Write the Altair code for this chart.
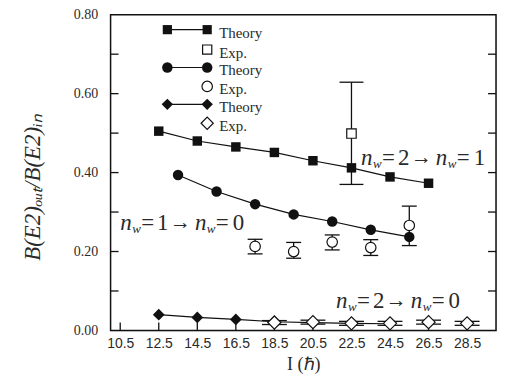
import altair as alt
import pandas as pd

# ---------------- data ----------------
theory_sq_x = [12.5, 14.5, 16.5, 18.5, 20.5, 22.5, 24.5, 26.5]
theory_sq_y = [0.505, 0.480, 0.465, 0.451, 0.430, 0.412, 0.389, 0.373]
exp_sq_x = [22.5]
exp_sq_y = [0.499]
exp_sq_lo = [0.370]
exp_sq_hi = [0.629]

theory_ci_x = [13.5, 15.5, 17.5, 19.5, 21.5, 23.5, 25.5]
theory_ci_y = [0.394, 0.352, 0.320, 0.294, 0.276, 0.255, 0.237]
exp_ci_x = [17.5, 19.5, 21.5, 23.5, 25.5]
exp_ci_y = [0.213, 0.200, 0.224, 0.210, 0.266]
exp_ci_lo = [0.194, 0.183, 0.204, 0.190, 0.215]
exp_ci_hi = [0.231, 0.223, 0.242, 0.230, 0.315]

theory_di_x = [12.5, 14.5, 16.5, 18.5, 20.5, 22.5, 24.5]
theory_di_y = [0.040, 0.033, 0.028, 0.022, 0.020, 0.018, 0.017]
exp_di_x = [18.5, 20.5, 22.5, 24.5, 26.5, 28.5]
exp_di_y = [0.020, 0.021, 0.018, 0.018, 0.021, 0.018]
exp_di_lo = [0.015, 0.016, 0.013, 0.013, 0.016, 0.013]
exp_di_hi = [0.025, 0.026, 0.023, 0.023, 0.026, 0.023]

x_tick_values = [10.5, 12.5, 14.5, 16.5, 18.5, 20.5, 22.5, 24.5, 26.5, 28.5]
y_label_values = [0.0, 0.2, 0.4, 0.6, 0.8]
y_tick_values = [0.1, 0.2, 0.3, 0.4, 0.5, 0.6, 0.7]

ann_x = [23.0, 10.5, 21.7]
ann_y = [0.419, 0.255, 0.057]
ann_from = ["2", "1", "2"]
ann_to = ["1", "0", "0"]

legend_labels = ["Theory", "Exp.", "Theory", "Exp.", "Theory", "Exp."]

# ---------------- chart ----------------
W, H = 387, 317
INK = "#111111"
TXT = "#2a2a2a"
SERIF = "Liberation Serif"
SANS = "Liberation Sans"

xs = alt.Scale(domain=[10, 30], nice=False, zero=False)
ys = alt.Scale(domain=[0, 0.8], nice=False, zero=False)

X_AXIS = alt.Axis(
    values=x_tick_values, format=".1f", ticks=False, domain=False, grid=False,
    labelFont=SANS, labelFontSize=14, labelColor=TXT, labelPadding=6,
    title="I (ℏ)", titleFont=SERIF, titleFontSize=18, titleFontWeight="normal",
    titleColor=TXT, titlePadding=5)
Y_AXIS = alt.Axis(
    values=y_label_values, format=".2f", ticks=False, domain=False, grid=False,
    labelFont=SERIF, labelFontSize=14, labelColor=TXT, labelPadding=13,
    title="B(E2)ₒᵤₜ/B(E2)ᵢₙ", titleFont=SERIF, titleFontSize=23,
    titleFontStyle="italic", titleFontWeight="normal", titleColor=TXT,
    titleAngle=-90, titleX=-78, titleY=173, titleAlign="center",
    titleBaseline="middle")

def X(field="x"):
    return alt.X(f"{field}:Q", scale=xs, axis=X_AXIS)

def Y(field="y"):
    return alt.Y(f"{field}:Q", scale=ys, axis=Y_AXIS)

sq_t = pd.DataFrame({"x": theory_sq_x, "y": theory_sq_y})
ci_t = pd.DataFrame({"x": theory_ci_x, "y": theory_ci_y})
di_t = pd.DataFrame({"x": theory_di_x, "y": theory_di_y})
sq_e = pd.DataFrame({"x": exp_sq_x, "y": exp_sq_y, "lo": exp_sq_lo, "hi": exp_sq_hi})
ci_e = pd.DataFrame({"x": exp_ci_x, "y": exp_ci_y, "lo": exp_ci_lo, "hi": exp_ci_hi})
di_e = pd.DataFrame({"x": exp_di_x, "y": exp_di_y, "lo": exp_di_lo, "hi": exp_di_hi})

layers = []

# frame
one = pd.DataFrame({"k": [0]})
layers.append(alt.Chart(one).mark_rect(fill="white", stroke=INK, strokeWidth=1.5).encode(
    x=alt.value(0), x2=alt.value(W), y=alt.value(0), y2=alt.value(H)))

# inward ticks
yt = pd.DataFrame({"y": y_tick_values})
xt = pd.DataFrame({"x": x_tick_values})
layers.append(alt.Chart(yt).mark_rule(color=INK, strokeWidth=1.3).encode(
    x=alt.value(0), x2=alt.value(8), y=Y()))
layers.append(alt.Chart(yt).mark_rule(color=INK, strokeWidth=1.3).encode(
    x=alt.value(W - 8), x2=alt.value(W), y=Y()))
layers.append(alt.Chart(xt).mark_rule(color=INK, strokeWidth=1.3).encode(
    x=X(), y=alt.value(H), y2=alt.value(H - 8)))

# theory lines
for df in (sq_t, ci_t, di_t):
    layers.append(alt.Chart(df).mark_line(color=INK, strokeWidth=1.2).encode(x=X(), y=Y()))

# theory markers
layers.append(alt.Chart(sq_t).mark_point(shape="square", filled=True, color=INK, size=90, opacity=1).encode(x=X(), y=Y()))
layers.append(alt.Chart(ci_t).mark_point(shape="circle", filled=True, color=INK, size=110, opacity=1).encode(x=X(), y=Y()))
layers.append(alt.Chart(di_t).mark_point(shape="diamond", filled=True, color=INK, size=140, opacity=1).encode(x=X(), y=Y()))

# error bars
for df, cap in ((sq_e, 24), (ci_e, 15), (di_e, 25)):
    layers.append(alt.Chart(df).mark_rule(color=INK, strokeWidth=1.3).encode(x=X(), y=Y("lo"), y2="hi:Q"))
    layers.append(alt.Chart(df).mark_tick(orient="horizontal", color=INK, size=cap, thickness=1.3, opacity=1).encode(x=X(), y=Y("lo")))
    layers.append(alt.Chart(df).mark_tick(orient="horizontal", color=INK, size=cap, thickness=1.3, opacity=1).encode(x=X(), y=Y("hi")))

# experimental markers (open)
for df, shp, sz in ((sq_e, "square", 90), (ci_e, "circle", 110), (di_e, "diamond", 175)):
    layers.append(alt.Chart(df).mark_point(shape=shp, filled=True, fill="white", stroke=INK,
                                           strokeWidth=1.2, size=sz, opacity=1).encode(x=X(), y=Y()))

# annotations  n_w = a -> n_w = b
ann_df = pd.DataFrame({"x": ann_x, "y": ann_y, "a": ann_from, "b": ann_to})
segments = [
    ("n", 0, 23, "italic", 0),
    ("w", 12, 13, "italic", 3),
    ("=", 21, 23, "normal", 0),
    ("a:N", 37, 23, "normal", 0),
    ("→", 50, 21, "normal", -1),
    ("n", 75, 23, "italic", 0),
    ("w", 87, 13, "italic", 3),
    ("=", 96, 23, "normal", 0),
    ("b:N", 113, 23, "normal", 0),
]
for txt, dx, fs, style, dy in segments:
    enc_text = alt.Text(txt) if txt.endswith(":N") else alt.value(txt)
    layers.append(alt.Chart(ann_df).mark_text(
        align="left", baseline="alphabetic", dx=dx, dy=dy, font=SERIF, fontSize=fs,
        fontStyle=style, color=TXT).encode(x=X(), y=Y(), text=enc_text))

# manual legend (pixel positions in the plot area)
leg_rows_y = [15, 35, 53, 72, 90, 109]
leg_shapes = ["square", "square", "circle", "circle", "diamond", "diamond"]
leg_sizes = [85, 85, 110, 110, 130, 150]
for i, (lab, py, shp, sz) in enumerate(zip(legend_labels, leg_rows_y, leg_shapes, leg_sizes)):
    theory = (i % 2 == 0)
    if theory:
        layers.append(alt.Chart(one).mark_rule(color=INK, strokeWidth=1.2).encode(
            x=alt.value(57), x2=alt.value(97), y=alt.value(py)))
        for px in (57, 97):
            layers.append(alt.Chart(one).mark_point(shape=shp, filled=True, color=INK, size=sz, opacity=1).encode(
                x=alt.value(px), y=alt.value(py)))
    else:
        layers.append(alt.Chart(one).mark_point(shape=shp, filled=True, fill="white", stroke=INK,
                                                strokeWidth=1.2, size=sz, opacity=1).encode(
            x=alt.value(97), y=alt.value(py)))
    layers.append(alt.Chart(one).mark_text(align="left", baseline="middle", font=SERIF, fontSize=15,
                                           color=TXT).encode(
        x=alt.value(109), y=alt.value(py + 3), text=alt.value(lab)))

chart = alt.layer(*layers).properties(
    width=W, height=H,
    autosize=alt.AutoSizeParams(type="none"),
    padding={"left": 103, "top": 6, "right": 2, "bottom": 47},
).configure_view(stroke=None).configure(background="white")

chart.save("out.html", embed_options={"renderer": "svg", "actions": False})
